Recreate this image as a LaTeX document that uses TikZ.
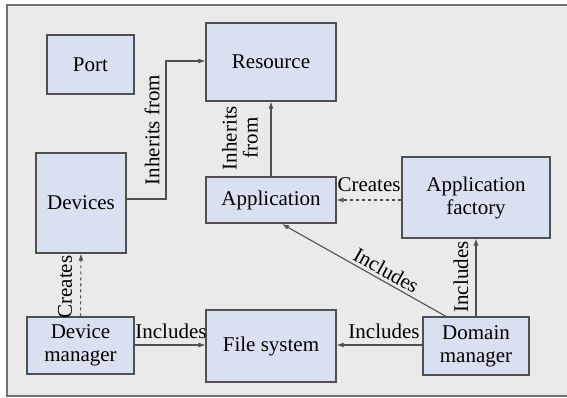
\documentclass[tikz,border=0pt]{standalone}
\usepackage{fontspec}
\setmainfont{LiberationSerif}[Extension=.ttf,UprightFont=*-Regular,BoldFont=*-Bold]
\usetikzlibrary{arrows.meta}
\definecolor{bgc}{HTML}{EAEAEA}
\definecolor{boxc}{HTML}{D9E1F0}
\definecolor{linec}{HTML}{505050}
\begin{document}
\begin{tikzpicture}[x=1pt,y=-1pt,
  box/.style={draw=linec,fill=boxc,line width=1.1pt,inner sep=0pt,align=center,font=\rmfamily\fontsize{21}{23}\selectfont},
  conn/.style={draw=linec,line width=1.1pt,-{Latex[length=7pt,width=5pt]}},
  lbl/.style={font=\rmfamily\fontsize{21}{21}\selectfont,inner sep=0pt,align=center}]
\useasboundingbox (0,0) rectangle (567,398);
\fill[white] (0,0) rectangle (567,398);
\begin{scope}
\clip (0,0) rectangle (567,398);
\draw[fill=bgc,draw=linec!80,line width=1.2pt] (7,5) rectangle (575,396);
\end{scope}
\node[box,minimum width=87pt,minimum height=59pt] (port) at (90.5,64.5) {Port};
\node[box,minimum width=130pt,minimum height=78pt] (res) at (271,62) {Resource};
\node[box,minimum width=90pt,minimum height=100pt] (dev) at (81,203) {Devices};
\node[box,minimum width=130pt,minimum height=46pt] (app) at (271,200) {Application};
\node[box,minimum width=148pt,minimum height=81pt] (fac) at (476,197.5) {Application\\factory};
\node[box,minimum width=107pt,minimum height=57pt] (dm) at (80.5,345.5) {Device\\manager};
\node[box,minimum width=130pt,minimum height=72pt] (fs) at (271,346) {File system};
\node[box,minimum width=106pt,minimum height=58pt] (dom) at (476,346) {Domain\\manager};
% Devices -> Resource
\coordinate (c1) at (166,199);
\coordinate (c2) at (166,61);
\draw[conn] (dev.east |- c1) -- (c1) -- (c2) -- (res.west |- c2);
\node[lbl,rotate=90] (l1) at (152,130) {Inherits from};
% Application -> Resource
\draw[conn] (app.north) -- (res.south);
\node[lbl,rotate=90] (l2) at (240,138) {Inherits\\from};
% Factory -> Application
\draw[conn,dashed] (fac.west |- 0,200) -- (app.east |- 0,200);
\node[lbl,anchor=south] (l3) at (369,192) {Creates};
% Device manager -> Devices
\draw[conn,dashed] (dm.north) -- (dev.south);
\node[lbl,rotate=90] (l4) at (65,287) {Creates};
% Device manager -> File system
\draw[conn] (dm.east |- 0,345) -- (fs.west |- 0,345);
\node[lbl,anchor=south] (l5) at (171,339) {Includes};
% Domain manager -> File system
\draw[conn] (dom.west |- 0,345) -- (fs.east |- 0,345);
\node[lbl,anchor=south] (l6) at (384,339) {Includes};
% Domain manager -> Factory
\draw[conn] (dom.north) -- (fac.south);
\node[lbl,rotate=90] (l7) at (461,277) {Includes};
% Domain manager -> Application (diagonal)
\coordinate (d1) at (447,317);
\coordinate (d2) at (282,224);
\draw[conn] (d1) -- (d2) node[lbl,pos=0.4,sloped,above=3pt] (l8) {Includes};
\end{tikzpicture}
\end{document}
